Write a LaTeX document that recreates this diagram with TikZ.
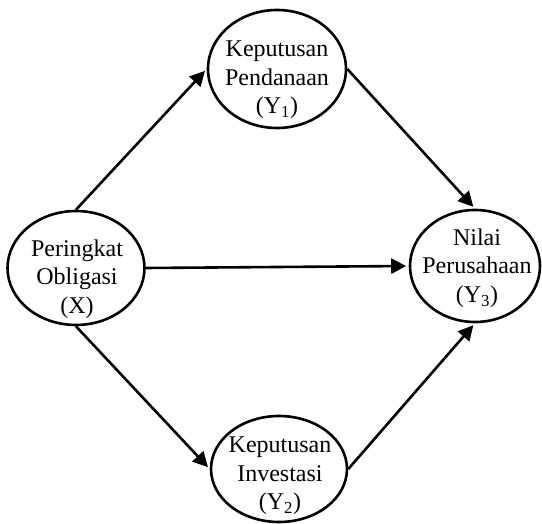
\documentclass[tikz,border=0pt]{standalone}
\usepackage{fontspec}
\setmainfont{Liberation Serif}
\usetikzlibrary{shapes.geometric,arrows.meta}
\begin{document}
\begin{tikzpicture}[x=1pt,y=-1pt,
  ell/.style={draw=black,line width=2.6pt,ellipse,inner sep=0pt},
  txt/.style={align=center,inner sep=0pt,font=\fontsize{24}{28.5}\selectfont},
  arr/.style={line width=2.6pt,-{Triangle[length=15pt,width=15pt]},shorten >=2.5pt}
]
\useasboundingbox (0,0) rectangle (542,524);
\node[ell,minimum width=138pt,minimum height=118pt] (y1) at (277,69) {};
\node[ell,minimum width=137pt,minimum height=114pt] (x) at (76,268) {};
\node[ell,minimum width=130pt,minimum height=112pt] (y3) at (475,266) {};
\node[ell,minimum width=136pt,minimum height=106pt] (y2) at (279,469) {};
\node[txt] (t1) at (277,80) {Keputusan\\Pendanaan\\(Y\textsubscript{1})};
\node[txt] (tx) at (77,279) {Peringkat\\Obligasi\\(X)};
\node[txt] (t3) at (477,268) {Nilai\\Perusahaan\\(Y\textsubscript{3})};
\node[txt] (t2) at (280,476) {Keputusan\\Investasi\\(Y\textsubscript{2})};
\draw[arr] (x.north) -- (y1.west);
\draw[arr] (y1.east) -- (y3.north);
\draw[arr] (x.east) -- (y3.west);
\draw[arr] (x.south) -- (y2.west);
\draw[arr] (y2.east) -- (y3.south);
\end{tikzpicture}
\end{document}
